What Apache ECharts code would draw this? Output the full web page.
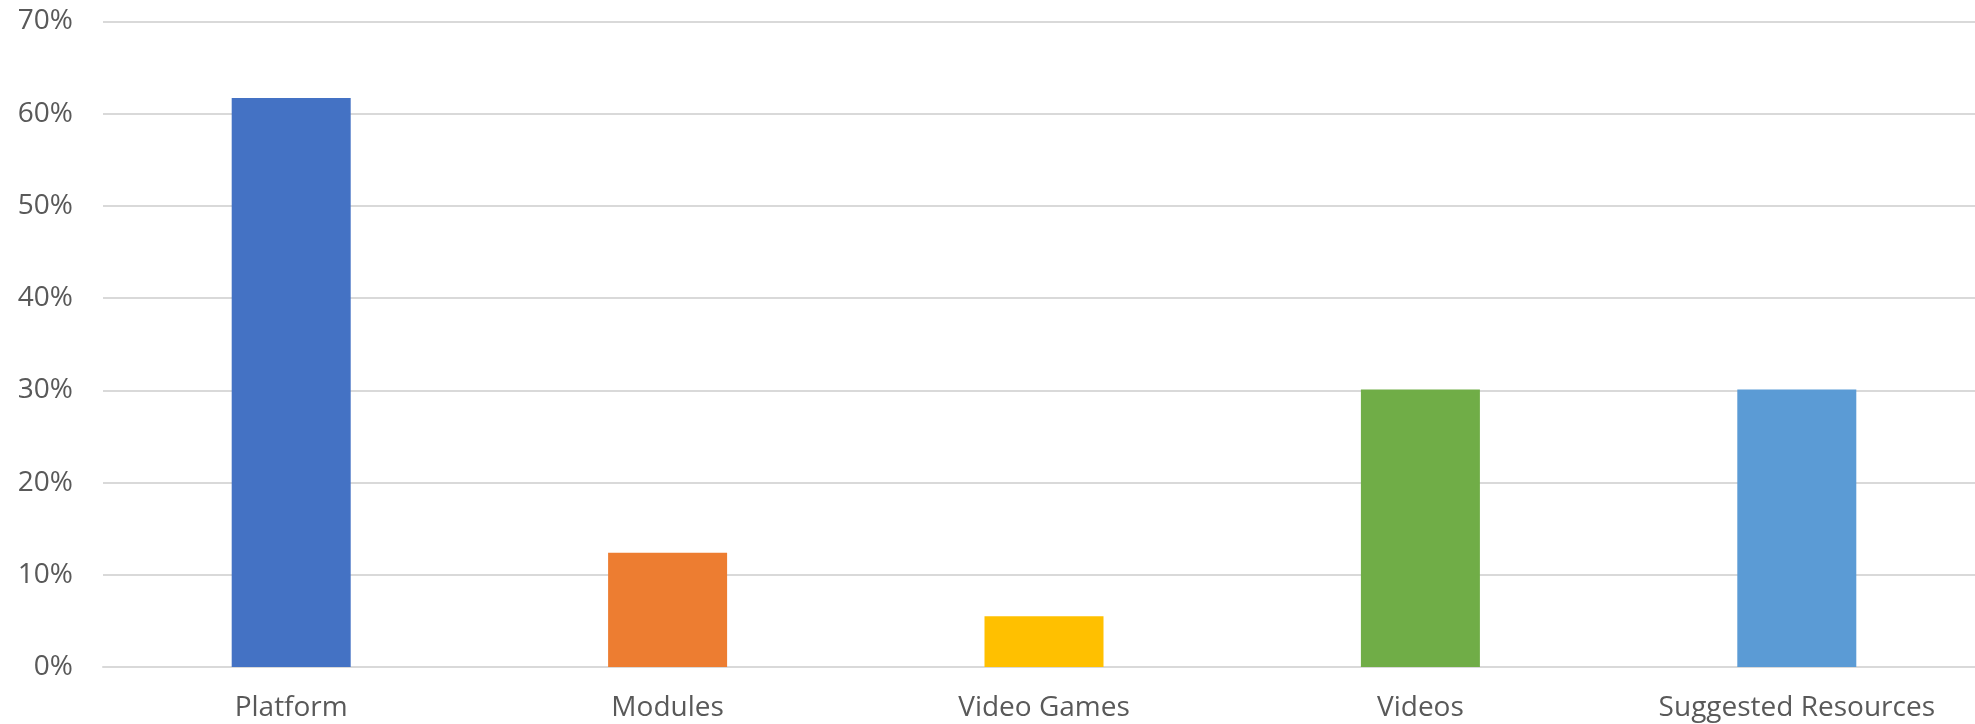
<!DOCTYPE html>
<html>
<head>
<meta charset="utf-8">
<script src="https://cdn.jsdelivr.net/npm/echarts@6/dist/echarts.min.js"></script>
<style>
html,body{margin:0;padding:0;background:#fff;}
#c{width:1975px;height:724px;}
</style>
</head>
<body>
<div id="c"></div>
<script>
const categories = ['Platform', 'Modules', 'Video Games', 'Videos', 'Suggested Resources'];
const values = [61.7, 12.4, 5.5, 30.1, 30.1];
const colors = ['#4472C4', '#ED7D31', '#FFC000', '#70AD47', '#5B9BD5'];
const yTicks = [0, 10, 20, 30, 40, 50, 60, 70];

const chart = echarts.init(document.getElementById('c'));
chart.setOption({
  animation: false,
  backgroundColor: '#fff',
  grid: { left: 103, top: 21.5, width: 1882, bottom: 57, containLabel: false, outerBoundsMode: 'none' },
  xAxis: {
    type: 'category',
    data: categories,
    axisLine: { show: true, lineStyle: { color: '#d9d9d9', width: 2 } },
    axisTick: { show: false },
    axisLabel: { color: '#595959', fontSize: 28, fontFamily: 'Open Sans', margin: 27, interval: 0 }
  },
  yAxis: {
    type: 'value',
    min: 0, max: 70, interval: 10,
    axisLine: { show: false },
    axisTick: { show: false },
    splitLine: { lineStyle: { color: '#d9d9d9', width: 2 } },
    axisLabel: { color: '#595959', fontSize: 28, fontFamily: 'Open Sans', margin: 30, formatter: v => v + '%' }
  },
  series: [{
    type: 'bar',
    barWidth: 119,
    data: values.map((v, i) => ({ value: v, itemStyle: { color: colors[i] } }))
  }]
});
</script>
</body>
</html>
